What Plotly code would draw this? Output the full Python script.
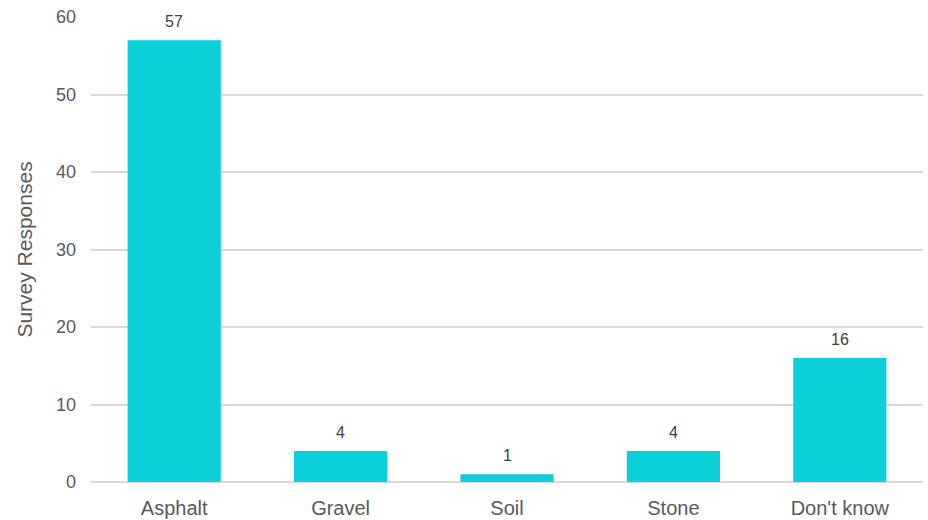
import plotly.graph_objects as go

categories = ["Asphalt", "Gravel", "Soil", "Stone", "Don't know"]
responses = [57, 4, 1, 4, 16]
y_ticks = [0, 10, 20, 30, 40, 50, 60]

fig = go.Figure()
fig.add_trace(go.Bar(
    x=categories, y=responses,
    marker=dict(color="#0BCFD9", line=dict(width=0)),
    hoverinfo="x+y",
))

for c, v in zip(categories, responses):
    fig.add_annotation(
        x=c, y=v, text=str(v), showarrow=False,
        yanchor="bottom", yshift=8,
        font=dict(family="Liberation Sans, Arial, sans-serif", size=16, color="#404040"),
    )

fig.update_layout(
    width=928, height=520,
    margin=dict(l=91, r=5, t=17, b=38),
    paper_bgcolor="white", plot_bgcolor="white",
    bargap=0.44,
    showlegend=False,
    font=dict(family="Liberation Sans, Arial, sans-serif", color="#595959"),
    xaxis=dict(
        showgrid=False, showline=False, zeroline=False,
        tickfont=dict(size=20, color="#595959"),
        ticklabelstandoff=12,
        automargin=False,
    ),
    yaxis=dict(
        range=[0, 60], tickvals=y_ticks,
        showgrid=True, gridcolor="#D9D9D9", gridwidth=1.5,
        zeroline=True, zerolinecolor="#D9D9D9", zerolinewidth=1.5,
        showline=False,
        tickfont=dict(size=18, color="#595959"),
        ticklabelstandoff=14,
        automargin=False,
        title=dict(text="Survey Responses", font=dict(size=21, color="#595959"), standoff=17),
    ),
)

fig.write_html("out.html")
